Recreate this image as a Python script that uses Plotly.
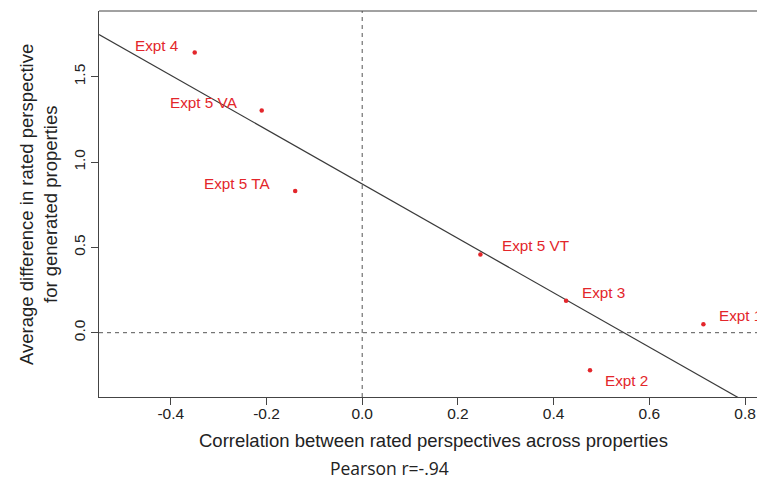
import numpy as np
import plotly.graph_objects as go

# Experiments: correlation between rated perspectives vs. average difference
labels = ["Expt 4", "Expt 5 VA", "Expt 5 TA", "Expt 5 VT", "Expt 3", "Expt 1", "Expt 2"]
corr = [-0.350, -0.210, -0.140, 0.247, 0.426, 0.713, 0.476]
avg_diff = [1.643, 1.303, 0.830, 0.459, 0.187, 0.049, -0.220]

x_ticks = [-0.4, -0.2, 0.0, 0.2, 0.4, 0.6, 0.8]
x_ticktext = ["-0.4", "-0.2", "0.0", "0.2", "0.4", "0.6", "0.8"]
y_ticks = [0.0, 0.5, 1.0, 1.5]
y_ticktext = ["0.0", "0.5", "1.0", "1.5"]

x_title = "Correlation between rated perspectives across properties"
y_title_lines = ["Average difference in rated perspective", "for generated properties"]
caption = "Pearson r=-.94"

# label placement: (anchor, x offset px, y offset px)
label_pos = [("right", -14, 7), ("right", -22, 8), ("right", -22, 8),
             ("left", 20, 9), ("left", 14, 8), ("left", 14, 9), ("left", 13, -10)]

RED = "#e3262b"
INK = "#222222"
FONT = "Liberation Sans, Arial, sans-serif"
X_RANGE = [-0.550, 0.825]
Y_RANGE = [-0.377, 1.886]

# least-squares fit line
slope, intercept = np.polyfit(corr, avg_diff, 1)
fit_x = np.array(X_RANGE)
fit_y = intercept + slope * fit_x

fig = go.Figure()
fig.add_trace(go.Scatter(x=fit_x, y=fit_y, mode="lines",
                         line=dict(color="#3a3a3a", width=1.2),
                         hoverinfo="skip", showlegend=False))
fig.add_trace(go.Scatter(x=corr, y=avg_diff, mode="markers",
                         marker=dict(color=RED, size=4.5),
                         text=labels, showlegend=False))

for lab, cx, cy, (anchor, dx, dy) in zip(labels, corr, avg_diff, label_pos):
    fig.add_annotation(x=cx, y=cy, xref="x", yref="y", text=lab, showarrow=False,
                       xanchor=anchor, yanchor="middle", xshift=dx, yshift=dy,
                       font=dict(family=FONT, size=15.3, color=RED))

# reference lines at zero
dash = "4px,4px"
fig.add_shape(type="line", xref="x", yref="paper", x0=0, x1=0, y0=0, y1=1,
              line=dict(color="#555555", width=1, dash=dash))
fig.add_shape(type="line", xref="paper", yref="y", x0=0, x1=1, y0=0, y1=0,
              line=dict(color="#555555", width=1, dash=dash))
# top border of the plot box
fig.add_shape(type="line", xref="paper", yref="paper", x0=0, x1=1, y0=1, y1=1,
              line=dict(color="#444444", width=1))

# axis titles and caption
fig.add_annotation(x=0.508, y=-0.112, xref="paper", yref="paper", text=x_title,
                   showarrow=False, xanchor="center", yanchor="middle",
                   font=dict(family=FONT, size=18.5, color=INK))
for xpos, line in zip([-0.111, -0.0745], y_title_lines):
    fig.add_annotation(x=xpos, y=0.5, xref="paper", yref="paper", text=line,
                       showarrow=False, textangle=-90, xanchor="center", yanchor="middle",
                       font=dict(family=FONT, size=18.5, color=INK))
fig.add_annotation(x=0.442, y=-0.183, xref="paper", yref="paper", text=caption,
                   showarrow=False, xanchor="center", yanchor="middle",
                   font=dict(family="Open Sans, sans-serif", size=17.5, color=INK))

axis_common = dict(showgrid=False, zeroline=False, showline=True, linecolor="#444444",
                   linewidth=1, ticks="outside", ticklen=7, tickcolor="#444444",
                   tickfont=dict(family=FONT, size=15.5, color=INK))
fig.update_xaxes(range=X_RANGE, tickvals=x_ticks, ticktext=x_ticktext,
                 ticklabelstandoff=-5, **axis_common)
fig.update_yaxes(range=Y_RANGE, tickvals=y_ticks, ticktext=y_ticktext,
                 tickangle=-90, **axis_common)

fig.update_layout(width=757, height=481, margin=dict(l=99, r=0, t=11, b=84),
                  plot_bgcolor="white", paper_bgcolor="white")

fig.write_html("out.html")
